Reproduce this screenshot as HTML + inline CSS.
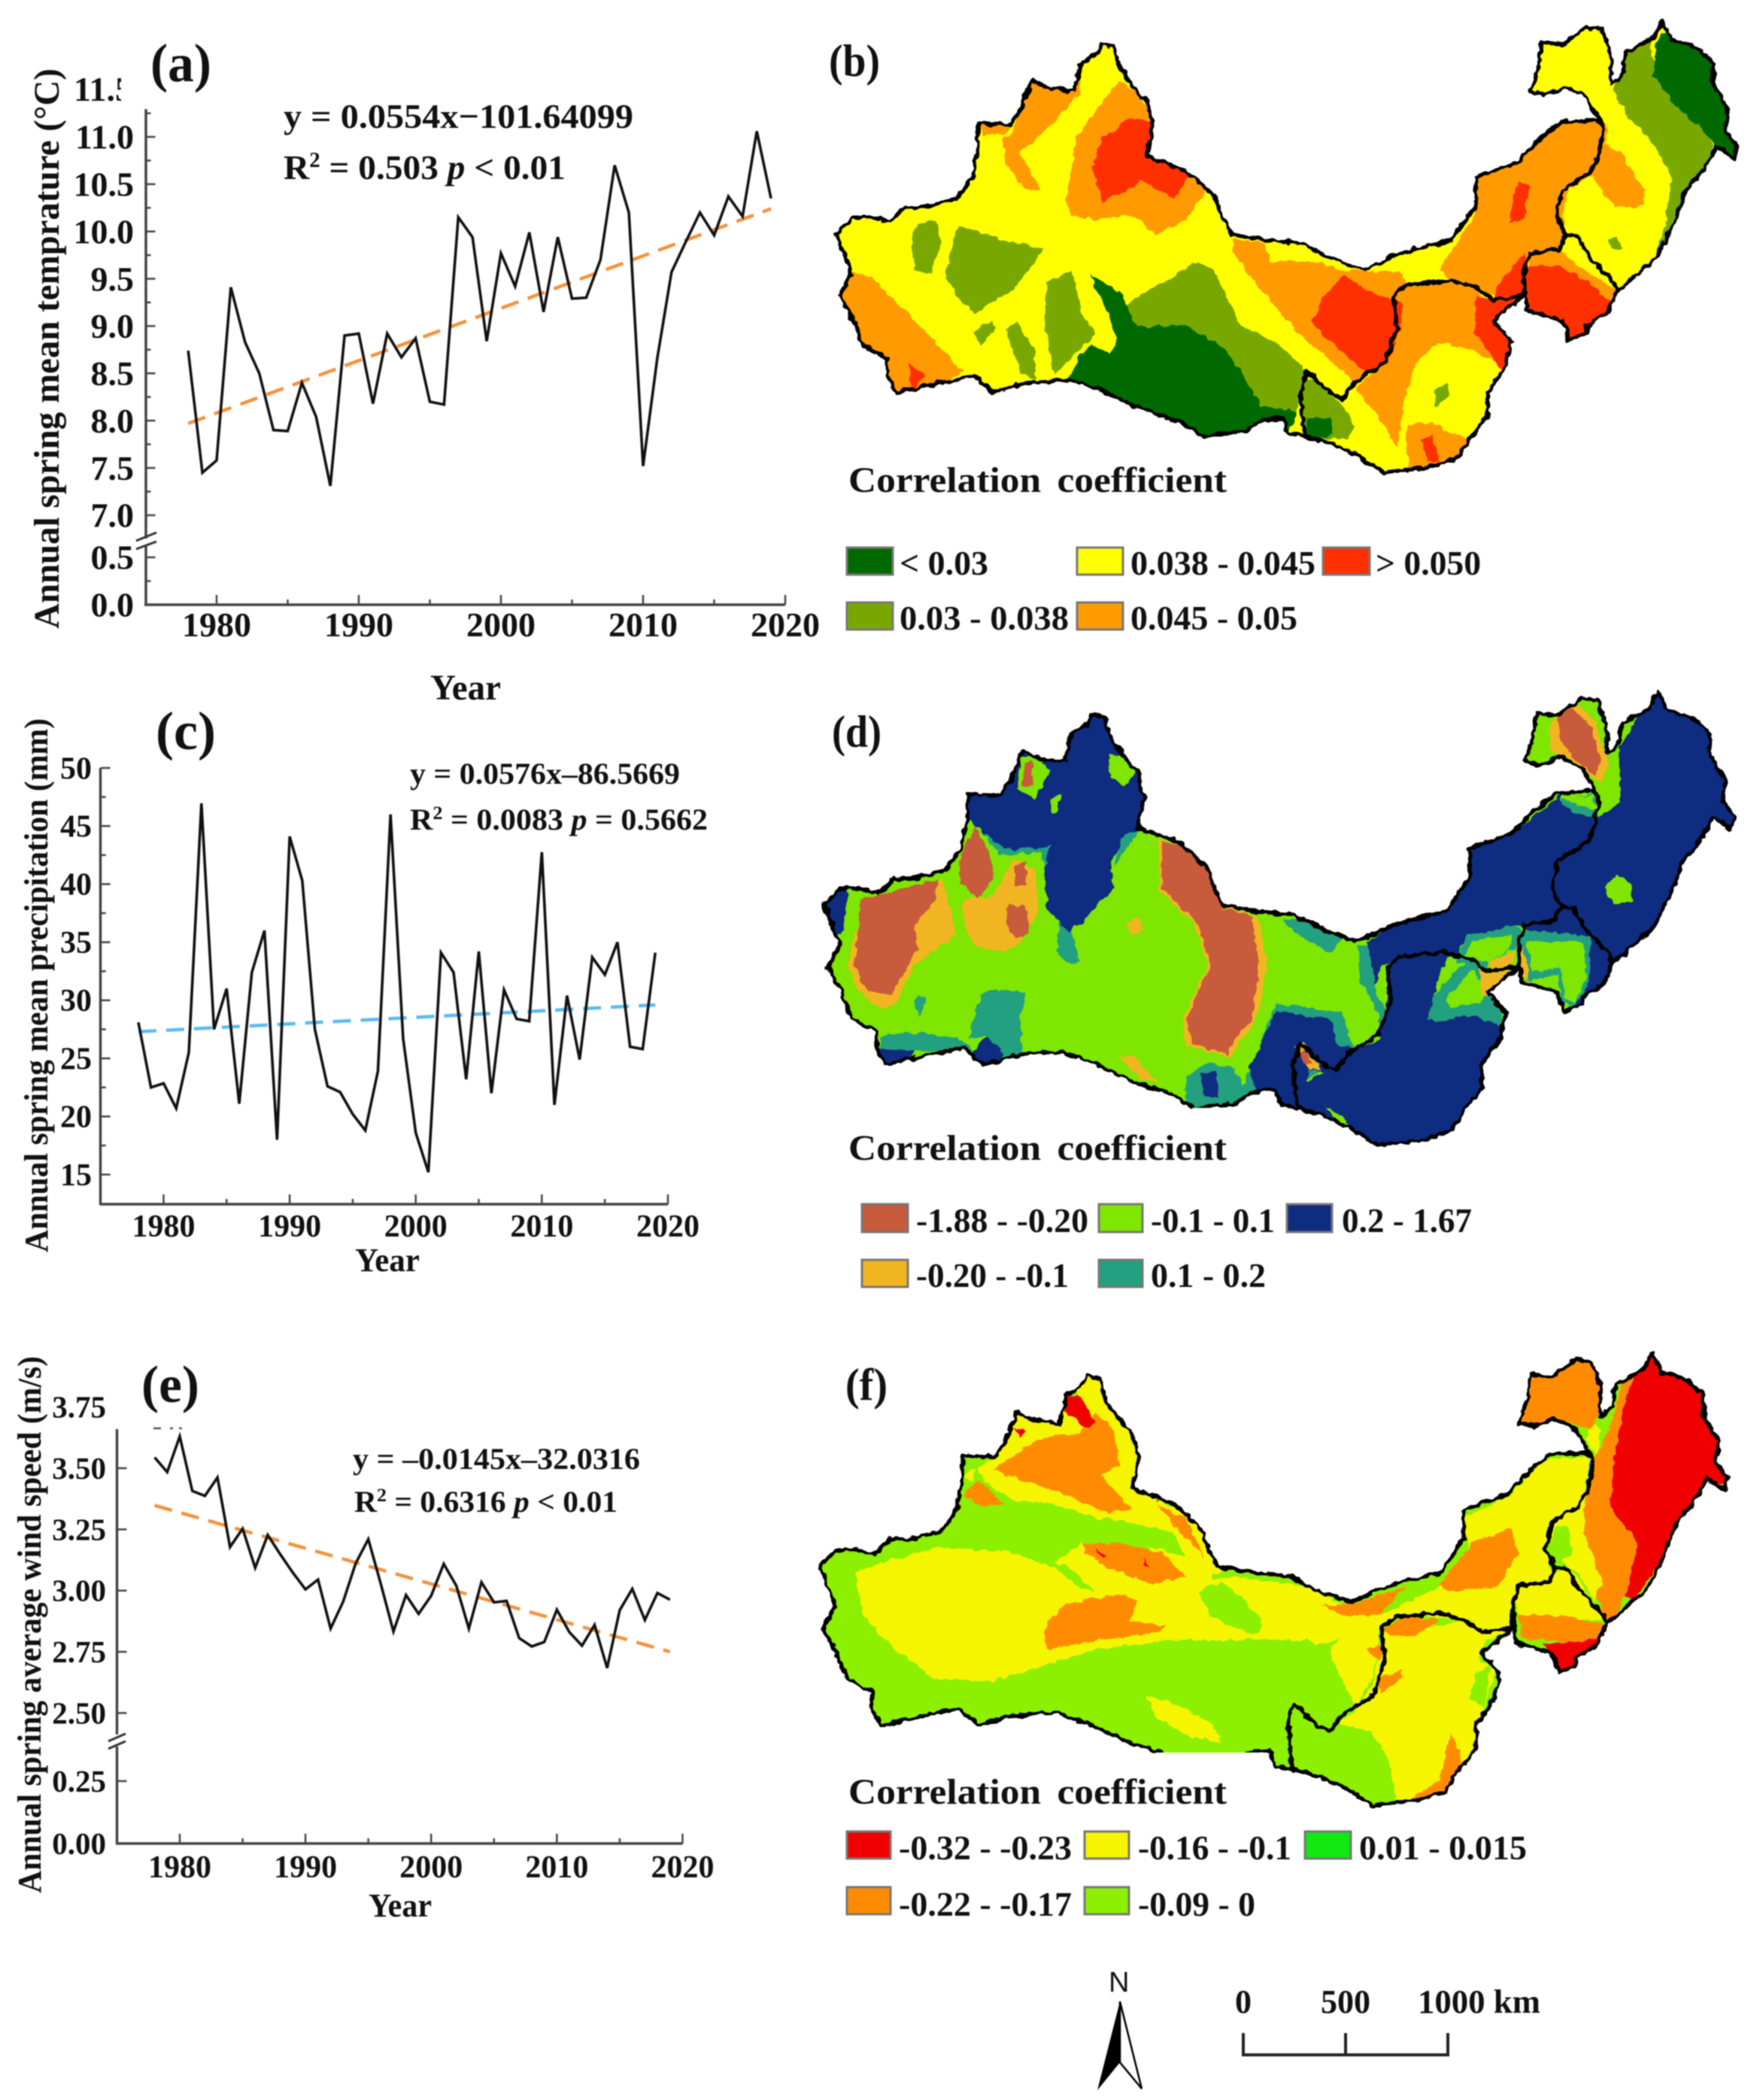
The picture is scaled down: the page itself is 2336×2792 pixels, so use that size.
<!DOCTYPE html>
<html lang="en">
<head>
<meta charset="utf-8">
<title>Spring climate trends and correlation maps</title>
<style>
html,body{margin:0;padding:0;background:#fff;}
svg{display:block;filter:blur(0.7px);}
text{font-family:"Liberation Serif",serif;font-weight:bold;fill:#111;}
.leg{font-size:46px;}
.ttl{font-size:48px;word-spacing:8px;}
.sw{stroke:#777;stroke-width:3;}
.outline{fill:none;stroke:#000;stroke-width:5;stroke-linejoin:round;vector-effect:non-scaling-stroke;}
</style>
</head>
<body>
<svg id="fig" xmlns="http://www.w3.org/2000/svg" width="2336" height="2792" viewBox="0 0 2336 2792">
<rect width="2336" height="2792" fill="#fff"/>
<defs>
<filter id="rough" x="-2%" y="-2%" width="104%" height="104%" color-interpolation-filters="sRGB">
<feTurbulence type="fractalNoise" baseFrequency="0.09" numOctaves="2" seed="4" result="noise"/>
<feDisplacementMap in="SourceGraphic" in2="noise" scale="9" xChannelSelector="R" yChannelSelector="G"/>
</filter>
<path id="r1" class="outline" d="M40,555 65,515 100,515 130,525 155,490 190,490 240,470 265,420 275,350 275,292 330,295 345,260 365,190 395,210 435,215 445,150 470,130 480,105 500,110 510,160 530,200 555,240 565,300 555,370 620,405 665,460 680,510 695,555 760,570 810,575 850,605 915,640 960,610 1000,590 1060,570 1090,510 1100,490 1100,420 1170,385 1200,340 1240,290 1300,285 1312,300 1305,370 1290,410 1245,450 1235,510 1250,560 1240,590 1190,600 1180,650 1180,700 1130,710 1100,680 1060,665 985,675 965,700 970,780 950,860 900,905 880,945 860,930 820,880 810,930 815,1010 820,1035 790,1025 780,990 745,995 720,1020 650,1035 610,1000 540,965 480,925 430,900 370,905 350,910 300,930 270,890 220,905 170,920 140,930 125,890 125,850 85,820 65,750 45,700 65,650 55,610Z"/>
<path id="r2" class="outline" d="M985,675 1060,665 1100,680 1130,710 1180,700 1130,760 1160,810 1150,870 1120,930 1120,985 1090,1040 1070,1085 1030,1105 950,1120 900,1075 860,1050 820,1035 815,1010 810,930 820,880 860,930 880,945 900,905 950,860 970,780 965,700Z"/>
<path id="r3" class="outline" d="M1190,600 1240,590 1250,555 1270,560 1290,610 1330,670 1335,690 1320,740 1285,770 1285,790 1255,805 1245,760 1185,735 1180,650Z"/>
<path id="r4" class="outline" d="M1290,410 1305,370 1312,300 1285,230 1250,205 1215,225 1190,215 1205,160 1210,100 1245,105 1285,65 1310,70 1325,130 1325,200 1345,175 1350,125 1395,90 1410,50 1425,95 1465,110 1495,150 1495,200 1520,260 1515,310 1535,345 1530,375 1500,345 1480,400 1450,450 1430,530 1400,610 1360,660 1335,690 1330,670 1290,610 1270,560 1250,555 1235,510 1245,450Z"/>
<clipPath id="clip-b"><use href="#r1" transform="matrix(.8013,0,0,.5612,1080,0)"/><use href="#r2" transform="matrix(.8013,0,0,.5612,1080,0)"/><use href="#r3" transform="matrix(.8013,0,0,.5612,1080,0)"/><use href="#r4" transform="matrix(.8013,0,0,.5612,1080,0)"/></clipPath>
<clipPath id="clip-d"><use href="#r1" transform="matrix(.8093,0,0,.564,1063.7,890.9)"/><use href="#r2" transform="matrix(.8093,0,0,.564,1063.7,890.9)"/><use href="#r3" transform="matrix(.8093,0,0,.564,1063.7,890.9)"/><use href="#r4" transform="matrix(.8093,0,0,.564,1063.7,890.9)"/></clipPath>
<clipPath id="clip-f"><use href="#r1" transform="matrix(.8077,0,0,.5621,1057.7,1771)"/><use href="#r2" transform="matrix(.8077,0,0,.5621,1057.7,1771)"/><use href="#r3" transform="matrix(.8077,0,0,.5621,1057.7,1771)"/><use href="#r4" transform="matrix(.8077,0,0,.5621,1057.7,1771)"/></clipPath>
<clipPath id="clip-tick"><rect x="0" y="90" width="161" height="60"/></clipPath>
</defs>

<!-- PANEL A -->
<g id="chart-a">
<text x="200" y="108" style="font-size:72px" textLength="81" lengthAdjust="spacingAndGlyphs">(a)</text>
<text x="98" y="134" style="font-size:46px" clip-path="url(#clip-tick)">11.5</text>
<text transform="translate(78,836) rotate(-90)" style="font-size:48px" textLength="745" lengthAdjust="spacingAndGlyphs">Annual spring mean temprature (°C)</text>
<text x="572" y="930" style="font-size:48px" textLength="94" lengthAdjust="spacingAndGlyphs">Year</text>
<text x="377" y="170" style="font-size:46px" textLength="465" lengthAdjust="spacingAndGlyphs">y = 0.0554x−101.64099</text>
<text x="377" y="238" style="font-size:46px" textLength="375" lengthAdjust="spacingAndGlyphs">R<tspan dy="-16" style="font-size:28px">2</tspan><tspan dy="16"> = 0.503 </tspan><tspan font-style="italic">p</tspan> &lt; 0.01</text>
</g>

<!-- PANEL C -->
<g id="chart-c">
<text x="207" y="996" style="font-size:72px" textLength="80" lengthAdjust="spacingAndGlyphs">(c)</text>
<text transform="translate(63,1665) rotate(-90)" style="font-size:44px" textLength="710" lengthAdjust="spacingAndGlyphs">Annual spring mean precipitation (mm)</text>
<text x="472" y="1690" style="font-size:44px" textLength="86" lengthAdjust="spacingAndGlyphs">Year</text>
<text x="545" y="1042" style="font-size:40px" textLength="359" lengthAdjust="spacingAndGlyphs">y = 0.0576x–86.5669</text>
<text x="545" y="1103" style="font-size:40px" textLength="396" lengthAdjust="spacingAndGlyphs">R<tspan dy="-14" style="font-size:25px">2</tspan><tspan dy="14"> = 0.0083 </tspan><tspan font-style="italic">p</tspan> = 0.5662</text>
</g>

<!-- PANEL E -->
<g id="chart-e">
<text x="188" y="1864" style="font-size:70px" textLength="77" lengthAdjust="spacingAndGlyphs">(e)</text>
<text transform="translate(54,2517) rotate(-90)" style="font-size:44px" textLength="714" lengthAdjust="spacingAndGlyphs">Annual spring average wind speed (m/s)</text>
<text x="490" y="2548" style="font-size:44px" textLength="84" lengthAdjust="spacingAndGlyphs">Year</text>
<text x="469" y="1953" style="font-size:40px" textLength="382" lengthAdjust="spacingAndGlyphs">y = –0.0145x–32.0316</text>
<text x="471" y="2010" style="font-size:40px" textLength="350" lengthAdjust="spacingAndGlyphs">R<tspan dy="-14" style="font-size:25px">2</tspan><tspan dy="14"> = 0.6316 </tspan><tspan font-style="italic">p</tspan> &lt; 0.01</text>
<path d="M204,1899h10M226,1899h4M238,1899h4" stroke="#555" stroke-width="2.5"/>
</g>

<!-- MAP B -->
<g filter="url(#rough)">
<g clip-path="url(#clip-b)">
<rect x="1080" y="0" width="1256" height="700" fill="#ffff00"/>
<g transform="matrix(.8013,0,0,.5612,1080,0)">
<g fill="#78a800">
<polygon points="175,530 205,520 215,570 195,650 170,640 165,570"/>
<polygon points="240,535 280,550 320,570 385,590 330,690 270,740 250,720 220,660"/>
<polygon points="270,790 295,755 305,780 280,820"/>
<polygon points="390,670 430,640 450,750 470,790 430,850 400,890 385,760"/>
<polygon points="320,780 340,760 370,830 370,900 345,880"/>
<polygon points="520,720 640,620 665,640 710,770 770,810 820,880 810,930 805,975 745,960 720,900 680,820 620,770 540,775"/>
<polygon points="810,900 830,895 880,960 900,1010 890,1040 860,1040 820,1035"/>
<polygon points="1330,215 1350,130 1390,100 1400,170 1425,240 1480,300 1495,345 1480,400 1450,450 1420,550 1400,600 1415,530 1425,420 1400,350 1350,270"/>
<polygon points="1320,570 1335,560 1345,590 1330,590"/>
<polygon points="1030,930 1055,905 1060,930 1035,965"/>
</g>
<g fill="#006a00">
<polygon points="460,650 510,690 540,775 620,770 680,820 720,900 745,960 805,975 790,1030 760,1000 720,1030 650,1050 610,1010 540,980 480,940 420,910 440,850 465,815 495,840 505,800 490,740"/>
<polygon points="1400,110 1425,40 1475,100 1510,150 1510,200 1530,260 1530,310 1550,390 1500,345 1470,300 1425,240 1395,180"/>
<polygon points="820,990 860,990 865,1030 840,1040 820,1030"/>
</g>
<g fill="#ff9a00">
<polygon points="65,640 100,660 150,730 210,820 250,880 220,905 170,930 140,940 115,890 115,850 75,820 55,750 35,700"/>
<polygon points="345,260 365,190 395,210 435,215 445,190 445,220 400,290 370,330 345,360 380,450 350,450 320,380 315,330 330,320"/>
<polygon points="510,190 540,220 575,300 565,370 630,405 655,450 620,520 570,555 530,510 470,520 430,510 420,470 440,320 470,260"/>
<polygon points="695,565 750,575 760,620 830,620 880,640 925,645 975,640 985,675 965,700 970,780 950,860 900,905 880,880 800,780 740,680 700,600"/>
<polygon points="1240,280 1300,275 1320,300 1315,370 1300,410 1255,450 1245,510 1250,560 1240,590 1190,600 1180,650 1170,690 1130,700 1100,680 1060,665 1040,640 1060,590 1100,510 1095,430 1170,380"/>
<polygon points="985,675 1060,665 1100,680 1110,700 1140,770 1150,870 1100,830 1040,810 1000,860 980,960 970,1060 940,990 900,920 950,860 970,780 965,700"/>
<polygon points="985,1010 1030,1000 1050,1020 1090,1040 1080,1095 1030,1115 990,1110"/>
<polygon points="1190,600 1240,590 1260,620 1335,690 1320,720 1290,670 1240,630 1190,630"/>
<polygon points="1310,340 1340,360 1380,450 1380,490 1330,490 1295,420"/>
<polygon points="275,292 330,295 320,320 285,320"/>
</g>
<g fill="#ff3000">
<polygon points="160,860 185,890 165,925"/>
<polygon points="525,280 570,290 565,370 630,410 600,470 550,430 480,480 465,400 480,330"/>
<polygon points="880,650 925,690 980,720 975,780 955,860 920,885 890,850 840,780 830,760 845,710"/>
<polygon points="1170,430 1190,440 1180,520 1155,530"/>
<polygon points="1140,670 1180,600 1190,640 1175,700 1130,710"/>
<polygon points="1100,700 1130,710 1180,700 1130,760 1165,810 1145,880 1120,830 1100,790"/>
<polygon points="1190,630 1240,630 1290,670 1330,720 1330,740 1295,780 1295,800 1255,815 1245,770 1185,745 1175,680"/>
<polygon points="1010,1040 1030,1030 1040,1095 1020,1095"/>
</g>
</g>
</g>
<g transform="matrix(.8013,0,0,.5612,1080,0)">
<use href="#r1"/><use href="#r2"/><use href="#r3"/><use href="#r4"/>
</g>
</g>
<text x="1102" y="101" style="font-size:60px" textLength="68" lengthAdjust="spacingAndGlyphs">(b)</text>
<g>
<text class="ttl" x="1128" y="654" textLength="503" lengthAdjust="spacingAndGlyphs">Correlation  coefficient</text>
<rect class="sw" x="1126" y="728" width="61" height="36" fill="#006a00"/>
<text class="leg" x="1196" y="764" textLength="118" lengthAdjust="spacingAndGlyphs">&lt; 0.03</text>
<rect class="sw" x="1432" y="728" width="61" height="36" fill="#ffff00"/>
<text class="leg" x="1503" y="764" textLength="246" lengthAdjust="spacingAndGlyphs">0.038 - 0.045</text>
<rect class="sw" x="1759" y="728" width="62" height="36" fill="#ff3000"/>
<text class="leg" x="1829" y="764" textLength="140" lengthAdjust="spacingAndGlyphs">&gt; 0.050</text>
<rect class="sw" x="1126" y="801" width="61" height="36" fill="#78a800"/>
<text class="leg" x="1196" y="837" textLength="225" lengthAdjust="spacingAndGlyphs">0.03 - 0.038</text>
<rect class="sw" x="1432" y="801" width="61" height="36" fill="#ff9a00"/>
<text class="leg" x="1503" y="837" textLength="222" lengthAdjust="spacingAndGlyphs">0.045 - 0.05</text>
</g>

<!-- MAP D -->
<g>
<g filter="url(#rough)">
<g clip-path="url(#clip-d)">
<rect x="1080" y="900" width="1256" height="660" fill="#7ee600"/>
<g transform="matrix(.8013,0,0,.5485,1080,900)">
<g fill="#22a080">
<polygon points="280,770 300,755 355,765 345,830 350,915 310,920 290,870 260,880 270,820"/>
<polygon points="115,870 175,860 250,880 270,910 170,905 110,900"/>
<polygon points="175,770 190,780 180,825 170,800"/>
<polygon points="410,580 430,620 445,690 420,695 405,660"/>
<polygon points="265,340 310,430 380,425 385,470 400,400 420,280 395,285 260,290"/>
<polygon points="505,380 550,360 500,460 510,400"/>
<polygon points="780,590 810,585 880,630 860,670 800,620"/>
<polygon points="905,650 930,650 935,770 975,860 950,895 935,800 910,740"/>
<polygon points="700,1060 620,1060 620,970 660,935 700,950 715,990 770,790 880,815 895,890 915,905 880,935 735,1030"/>
<polygon points="1020,830 1030,770 1090,680 1120,690 1125,760 1145,800 1145,850 1100,820 1040,835"/>
<polygon points="1070,690 1085,625 1170,600 1180,625 1165,660 1120,690"/>
<polygon points="1170,640 1185,615 1290,630 1290,740 1270,800 1245,790 1235,720 1185,740"/>
<polygon points="480,200 500,165 530,180 545,240 520,280 490,260"/>
<polygon points="1240,300 1300,280 1305,340 1265,330"/>
<polygon points="1295,510 1330,460 1365,490 1365,555 1330,560"/>
<polygon points="850,1030 880,1060 900,1100 875,1085"/>
</g>
<g fill="#0e2c80">
<polygon points="255,270 320,270 345,170 370,160 410,190 430,110 460,75 490,75 520,160 570,220 570,290 545,370 520,380 495,450 500,510 450,590 425,620 390,560 385,470 395,410 330,420 310,410 255,340"/>
<polygon points="0,570 50,510 60,530 50,625 10,625"/>
<polygon points="95,900 170,905 150,965 105,960"/>
<polygon points="260,920 290,870 315,910 310,950 260,950"/>
<polygon points="725,950 770,810 860,830 870,890 900,905 850,960 820,950 820,1070 770,1050 745,1040"/>
<polygon points="645,960 670,955 675,1020 650,1020"/>
<polygon points="920,640 990,580 1060,560 1085,480 1085,410 1170,370 1245,280 1240,300 1265,330 1305,340 1340,300 1340,170 1400,20 1560,200 1560,500 1300,800 1250,830 1290,740 1290,630 1185,615 1170,600 1085,625 1070,680 1000,670 945,700 935,750"/>
<polygon points="960,670 1060,655 1030,770 1020,830 1040,835 1100,820 1145,850 1125,930 1130,990 1080,1100 930,1160 870,1105 820,1060 790,1000 850,960 900,905 940,880 950,820"/>
</g>
<g fill="#7ee600">
<polygon points="490,190 520,190 535,230 520,265 495,245"/>
<polygon points="345,200 370,185 395,230 370,295 340,270"/>
<polygon points="395,295 412,285 405,330 395,330"/>
<polygon points="1180,220 1195,85 1245,85 1280,40 1320,60 1325,170 1335,200 1330,270 1310,310 1300,260 1250,205 1215,235"/>
<polygon points="1250,295 1295,285 1300,320 1270,315"/>
<polygon points="1315,510 1335,480 1360,500 1360,545 1330,550"/>
<polygon points="1050,780 1095,710 1115,750 1110,790 1060,800"/>
<polygon points="1080,680 1095,640 1160,625 1160,660 1120,690"/>
<polygon points="1185,640 1280,640 1285,730 1265,790 1250,780 1240,705 1195,715"/>
<polygon points="1435,480 1445,440 1475,430 1445,460"/>
<polygon points="850,1040 880,1065 895,1095 875,1080"/>
</g>
<g fill="#f2b522">
<polygon points="70,620 215,490 240,620 170,700 140,790 115,805 75,760 60,700"/>
<polygon points="250,540 300,530 335,440 370,470 375,570 340,650 320,665 270,655 250,600"/>
<polygon points="575,395 575,515 635,600 655,700 615,830 620,895 695,920 740,820 755,700 740,580 680,555 640,420"/>
<polygon points="520,600 540,580 550,610 530,625"/>
<polygon points="510,920 530,915 575,985 540,970"/>
<polygon points="800,900 815,885 845,955 825,950"/>
<polygon points="1225,110 1265,60 1300,110 1320,210 1310,260 1260,200 1225,180"/>
<polygon points="1105,700 1125,720 1165,710 1125,770 1110,770"/>
<polygon points="1120,690 1165,665 1160,700 1130,710"/>
<polygon points="1175,650 1190,700 1185,740 1200,750 1175,720"/>
</g>
<g fill="#c75b3c">
<polygon points="80,540 210,490 200,550 170,600 175,660 130,770 90,760 70,700 75,620"/>
<polygon points="270,360 295,430 300,490 275,540 245,500 245,440"/>
<polygon points="580,400 620,410 660,470 680,560 730,580 740,700 730,830 700,880 690,915 630,890 620,830 660,700 640,600 580,510"/>
<polygon points="325,550 355,555 360,620 335,635 320,600"/>
<polygon points="335,460 355,445 355,500 335,510"/>
<polygon points="350,210 365,205 365,265 350,265"/>
<polygon points="1235,100 1260,75 1290,110 1310,200 1300,240 1260,190 1240,150"/>
<polygon points="805,910 820,905 830,940 815,935"/>
</g>
</g>
</g>
<g transform="matrix(.8093,0,0,.564,1063.7,890.9)">
<use href="#r1"/><use href="#r2"/><use href="#r3"/><use href="#r4"/>
</g>
</g>
<rect x="1585" y="1473" width="84" height="22" fill="#fff"/>
</g>
<text x="1106" y="993" style="font-size:60px" textLength="66" lengthAdjust="spacingAndGlyphs">(d)</text>
<g>
<text class="ttl" x="1128" y="1542" textLength="503" lengthAdjust="spacingAndGlyphs">Correlation  coefficient</text>
<rect class="sw" x="1146" y="1601" width="61" height="37" fill="#c75b3c"/>
<text class="leg" x="1218" y="1638" textLength="229" lengthAdjust="spacingAndGlyphs">-1.88 - -0.20</text>
<rect class="sw" x="1461" y="1601" width="58" height="37" fill="#7ee600"/>
<text class="leg" x="1530" y="1638" textLength="165" lengthAdjust="spacingAndGlyphs">-0.1 - 0.1</text>
<rect class="sw" x="1711" y="1601" width="60" height="37" fill="#0e2c80"/>
<text class="leg" x="1784" y="1638" textLength="173" lengthAdjust="spacingAndGlyphs">0.2 - 1.67</text>
<rect class="sw" x="1146" y="1675" width="61" height="36" fill="#f2b522"/>
<text class="leg" x="1218" y="1711" textLength="203" lengthAdjust="spacingAndGlyphs">-0.20 - -0.1</text>
<rect class="sw" x="1461" y="1675" width="58" height="36" fill="#22a080"/>
<text class="leg" x="1530" y="1711" textLength="153" lengthAdjust="spacingAndGlyphs">0.1 - 0.2</text>
</g>

<!-- MAP F -->
<g>
<g filter="url(#rough)">
<g clip-path="url(#clip-f)">
<rect x="1080" y="1780" width="1256" height="660" fill="#8cf000"/>
<g transform="matrix(.8013,0,0,.6456,1080,1780)">
<g fill="#f5f500">
<polygon points="70,480 200,430 330,440 400,470 480,540 600,510 640,500 700,490 820,510 900,560 940,570 1060,500 1090,440 1080,370 1160,320 1210,250 1290,240 1280,340 1220,420 1225,490 1170,510 1160,600 1120,620 1100,580 970,570 940,600 930,700 900,760 860,650 820,620 600,620 470,640 300,705 200,700 120,620 85,570"/>
<polygon points="400,460 450,420 620,450 670,470 660,510 480,560"/>
<polygon points="250,280 310,240 345,150 410,170 460,70 490,80 545,210 540,310 650,380 680,480 640,500 500,380 400,340 300,330"/>
<polygon points="945,600 1100,580 1120,620 1105,660 1135,680 1110,780 1105,850 1050,940 970,960 960,880 930,810 870,790 900,770 930,710"/>
<polygon points="555,735 590,745 660,790 680,830 630,820 570,780"/>
<polygon points="1165,510 1220,490 1250,470 1270,490 1300,555 1320,580 1170,570"/>
<polygon points="1240,385 1285,320 1280,400 1310,500 1300,540 1270,480 1245,460 1260,430"/>
<polygon points="1290,170 1310,190 1300,240 1285,210"/>
</g>
<g fill="#8cf000">
<polygon points="640,520 680,500 720,540 750,590 730,610 660,570"/>
<polygon points="830,630 870,620 860,650"/>
<polygon points="1235,385 1255,390 1260,450 1230,460 1220,430"/>
<polygon points="1100,690 1125,670 1115,760 1090,740"/>
<polygon points="445,370 500,370 600,400 620,450 540,420 470,400"/>
<polygon points="270,260 290,300 340,335 310,340 265,310"/>
<polygon points="400,470 420,465 470,520 440,510"/>
</g>
<g fill="#ff8c00">
<polygon points="300,270 370,210 400,200 440,195 470,150 500,190 510,260 480,280 500,310 530,350 490,360 420,320 340,290"/>
<polygon points="570,340 620,370 650,450 620,410"/>
<polygon points="450,420 510,420 580,440 620,490 560,505 490,470 450,440"/>
<polygon points="390,580 420,545 515,525 540,540 525,580 585,590 575,605 480,620 390,640 385,620"/>
<polygon points="845,550 900,545 960,520 985,510 940,570 880,570"/>
<polygon points="1040,510 1095,420 1160,390 1170,440 1140,510 1060,520"/>
<polygon points="945,600 985,570 1040,580 1000,610 960,610"/>
<polygon points="920,640 950,625 940,665"/>
<polygon points="940,700 980,680 980,700 940,730"/>
<polygon points="1060,810 1080,880 1060,935 1000,960 970,965 1040,910"/>
<polygon points="1170,570 1240,570 1320,590 1300,640 1230,620 1180,620"/>
<polygon points="1170,190 1180,60 1235,60 1250,30 1310,30 1320,130 1290,185 1250,170 1210,195"/>
<polygon points="1290,270 1330,160 1345,80 1395,30 1400,100 1340,200 1325,350 1370,420 1350,530 1320,590 1300,530 1310,500 1280,400 1285,320"/>
<polygon points="250,320 275,290 320,340 280,345"/>
</g>
<g fill="#f00000">
<polygon points="415,120 440,115 470,170 460,185 420,150"/>
<polygon points="335,180 350,190 345,205"/>
<polygon points="470,432 490,450 480,455"/>
<polygon points="550,450 560,470 552,470"/>
<polygon points="1210,625 1250,625 1310,615 1295,650 1270,690 1235,700 1225,650"/>
<polygon points="1350,120 1385,10 1420,60 1495,100 1525,210 1540,320 1490,290 1470,370 1440,420 1400,470 1360,540 1350,530 1370,420 1325,350 1330,240"/>
</g>
</g>
</g>
<g transform="matrix(.8077,0,0,.5621,1057.7,1771)">
<use href="#r1"/><use href="#r2"/><use href="#r3"/><use href="#r4"/>
</g>
</g>
<rect x="1537" y="2330" width="148" height="70" fill="#fff"/>
</g>
<text x="1124" y="1861" style="font-size:60px" textLength="56" lengthAdjust="spacingAndGlyphs">(f)</text>
<g>
<text class="ttl" x="1128" y="2398" textLength="503" lengthAdjust="spacingAndGlyphs">Correlation  coefficient</text>
<rect class="sw" x="1126" y="2435" width="58" height="36" fill="#f00000"/>
<text class="leg" x="1195" y="2472" textLength="230" lengthAdjust="spacingAndGlyphs">-0.32 - -0.23</text>
<rect class="sw" x="1442" y="2435" width="59" height="36" fill="#f5f500"/>
<text class="leg" x="1513" y="2472" textLength="204" lengthAdjust="spacingAndGlyphs">-0.16 - -0.1</text>
<rect class="sw" x="1735" y="2435" width="61" height="36" fill="#10e810"/>
<text class="leg" x="1807" y="2472" textLength="223" lengthAdjust="spacingAndGlyphs">0.01 - 0.015</text>
<rect class="sw" x="1126" y="2509" width="58" height="36" fill="#ff8c00"/>
<text class="leg" x="1195" y="2547" textLength="230" lengthAdjust="spacingAndGlyphs">-0.22 - -0.17</text>
<rect class="sw" x="1442" y="2509" width="59" height="36" fill="#8cf000"/>
<text class="leg" x="1513" y="2547" textLength="156" lengthAdjust="spacingAndGlyphs">-0.09 - 0</text>
</g>

<!-- NORTH ARROW + SCALE -->
<g>
<text x="1474" y="2648" style="font-family:'Liberation Sans',sans-serif;font-weight:normal;font-size:38px">N</text>
<polygon points="1489,2661 1459,2779 1489,2742" fill="#000"/>
<polygon points="1489,2661 1518,2777 1489,2742" fill="#fff" stroke="#000" stroke-width="2.5"/>
</g>
<g>
<path d="M1653,2703V2732H1925V2703M1789,2703V2732" fill="none" stroke="#222" stroke-width="4"/>
<text x="1653" y="2676" text-anchor="middle" style="font-size:44px">0</text>
<text x="1789" y="2676" text-anchor="middle" style="font-size:44px">500</text>
<text x="1885" y="2676" style="font-size:44px" textLength="163" lengthAdjust="spacingAndGlyphs">1000 km</text>
</g>
</svg>

<script>
const years = [1978,1979,1980,1981,1982,1983,1984,1985,1986,1987,1988,1989,1990,1991,1992,1993,1994,1995,1996,1997,1998,1999,2000,2001,2002,2003,2004,2005,2006,2007,2008,2009,2010,2011,2012,2013,2014,2015,2016,2017,2018,2019];
const tempValues = [8.74,7.45,7.58,9.41,8.83,8.5,7.9,7.89,8.4,8.04,7.31,8.9,8.92,8.18,8.92,8.67,8.87,8.2,8.17,10.15,9.94,8.84,9.77,9.42,9.99,9.15,9.94,9.29,9.3,9.7,10.7,10.2,7.52,8.66,9.57,9.89,10.2,9.96,10.37,10.16,11.06,10.35];
const precipValues = [28.1,22.5,22.85,20.7,25.5,46.95,27.5,31,21.1,32.4,36,18,44.1,40.3,27.5,22.6,22.1,20.2,18.8,23.9,46,26.7,18.6,15.2,34.1,32.4,23.2,34.2,22,30.9,28.4,28.2,42.75,21,30.4,24.9,33.7,32.2,35,26,25.8,34.1];
const windValues = [3.544,3.484,3.63,3.407,3.387,3.462,3.178,3.253,3.093,3.227,3.148,3.073,3.005,3.045,2.845,2.955,3.112,3.21,3.026,2.833,2.982,2.905,2.979,3.109,3.02,2.845,3.034,2.952,2.958,2.806,2.772,2.79,2.922,2.83,2.775,2.86,2.684,2.92,3.007,2.88,2.99,2.963];
const trendYears = [1978,2019];
const tempTrend = [7.97,10.24];
const precipTrend = [27.3,29.6];
const windTrend = [3.348,2.75];
const xMajorTicks = [1980,1990,2000,2010,2020];
const xMinorTicks = [1985,1995,2005,2015];
const tempMajorTicks = [0,0.5,7,7.5,8,8.5,9,9.5,10,10.5,11];
const tempMinorTicks = [0.25,7.25,7.75,8.25,8.75,9.25,9.75,10.25,10.75,11.25];
const precipMajorTicks = [15,20,25,30,35,40,45,50];
const precipMinorTicks = [17.5,22.5,27.5,32.5,37.5,42.5,47.5];
const windMajorTicks = [0,0.25,2.5,2.75,3,3.25,3.5,3.75];
const windMinorTicks = [];

const NS = 'http://www.w3.org/2000/svg';
function mk(tag, attrs, parent) {
  const el = document.createElementNS(NS, tag);
  for (const k in attrs) el.setAttribute(k, attrs[k]);
  parent.appendChild(el);
  return el;
}
function linear(d0, d1, r0, r1) {
  return v => r0 + (v - d0) * (r1 - r0) / (d1 - d0);
}
function broken(lowD0, lowD1, lowR0, lowR1, upD0, upD1, upR0, upR1, split) {
  const low = linear(lowD0, lowD1, lowR0, lowR1);
  const up = linear(upD0, upD1, upR0, upR1);
  return v => v < split ? low(v) : up(v);
}

function drawChart(cfg) {
  const g = document.getElementById(cfg.id);
  const x = cfg.x, y = cfg.y;
  const x0 = x(1975), x1 = x(2020);

  const axisX = mk('line', {x1:x0-1.5, y1:cfg.base, x2:x1, y2:cfg.base, stroke:'#444', 'stroke-width':3.5}, g);
  
  

  const axisY = mk('path', {d:cfg.axisPath, fill:'none', stroke:'#444', 'stroke-width':3.5}, g);
  
  

  xMajorTicks.forEach(v => {
    const t = mk('line', {x1:x(v), x2:x(v), y1:cfg.base, y2:cfg.base-13, stroke:'#444', 'stroke-width':2.5}, g);
    
    
    const l = mk('text', {x:x(v), y:cfg.xLabelY, 'text-anchor':'middle', style:'font-size:' + cfg.xFont + 'px'}, g);
    l.textContent = v;
    
    
  });
  xMinorTicks.forEach(v => {
    const t = mk('line', {x1:x(v), x2:x(v), y1:cfg.base, y2:cfg.base-7, stroke:'#444', 'stroke-width':2.5}, g);
    
    
  });
  cfg.yMajor.forEach(v => {
    if (v <= cfg.topTick) {
      const t = mk('line', {x1:x0, x2:x0+13, y1:y(v), y2:y(v), stroke:'#444', 'stroke-width':2.5}, g);
      
      
    }
    const l = mk('text', {x:cfg.yLabelX, y:y(v)+cfg.yFont*0.34, 'text-anchor':'end', style:'font-size:' + cfg.yFont + 'px'}, g);
    l.textContent = v.toFixed(cfg.digits);
    
    
  });
  cfg.yMinor.forEach(v => {
    const t = mk('line', {x1:x0, x2:x0+7, y1:y(v), y2:y(v), stroke:'#444', 'stroke-width':2.5}, g);
    
    
  });

  const trend = mk('polyline', {points:trendYears.map((v,i) => x(v) + ',' + y(cfg.trend[i])).join(' '), fill:'none', stroke:cfg.trendColor, 'stroke-width':4.5, 'stroke-dasharray':'24 13'}, g);
  
  

  const line = mk('polyline', {points:years.map((v,i) => x(v) + ',' + y(cfg.values[i])).join(' '), fill:'none', stroke:'#111', 'stroke-width':3.6, 'stroke-linejoin':'miter'}, g);
  
  

  cfg.breaks.forEach(b => {
    const s = mk('line', {x1:b[0], y1:b[1], x2:b[2], y2:b[3], stroke:'#333', 'stroke-width':3}, g);
    
    
  });
}

drawChart({
  id:'chart-a', key:'temperature',
  x:linear(1980,2020,288,1044),
  y:broken(0,0.5,804,741, 7,11,685,182, 2),
  base:804, axisPath:'M194,804V726M194,716V145',
  topTick:11.25, xLabelY:846, xFont:46, yLabelX:178, yFont:46, digits:1,
  yMajor:tempMajorTicks, yMinor:tempMinorTicks,
  values:tempValues, trend:tempTrend, trendColor:'#f5923e',
  breaks:[[181,719,208,708],[181,730,208,720]]
});
drawChart({
  id:'chart-c', key:'precipitation',
  x:linear(1980,2020,217.5,888),
  y:linear(15,50,1561.6,1021),
  base:1601, axisPath:'M133.5,1601V1021',
  topTick:50, xLabelY:1644, xFont:42, yLabelX:122, yFont:42, digits:0,
  yMajor:precipMajorTicks, yMinor:precipMinorTicks,
  values:precipValues, trend:precipTrend, trendColor:'#5bbcf2',
  breaks:[]
});
drawChart({
  id:'chart-e', key:'wind',
  x:linear(1980,2020,239,907.5),
  y:broken(0,0.25,2451,2368, 2.5,3.5,2277.5,1952, 1),
  base:2451, axisPath:'M155.5,2451V2322M155.5,2306V1900',
  topTick:3.5, xLabelY:2496, xFont:42, yLabelX:141, yFont:41, digits:2,
  yMajor:windMajorTicks, yMinor:windMinorTicks,
  values:windValues, trend:windTrend, trendColor:'#f5923e',
  breaks:[[144,2315,167,2305],[144,2325,167,2315]]
});
</script>
</body>
</html>
